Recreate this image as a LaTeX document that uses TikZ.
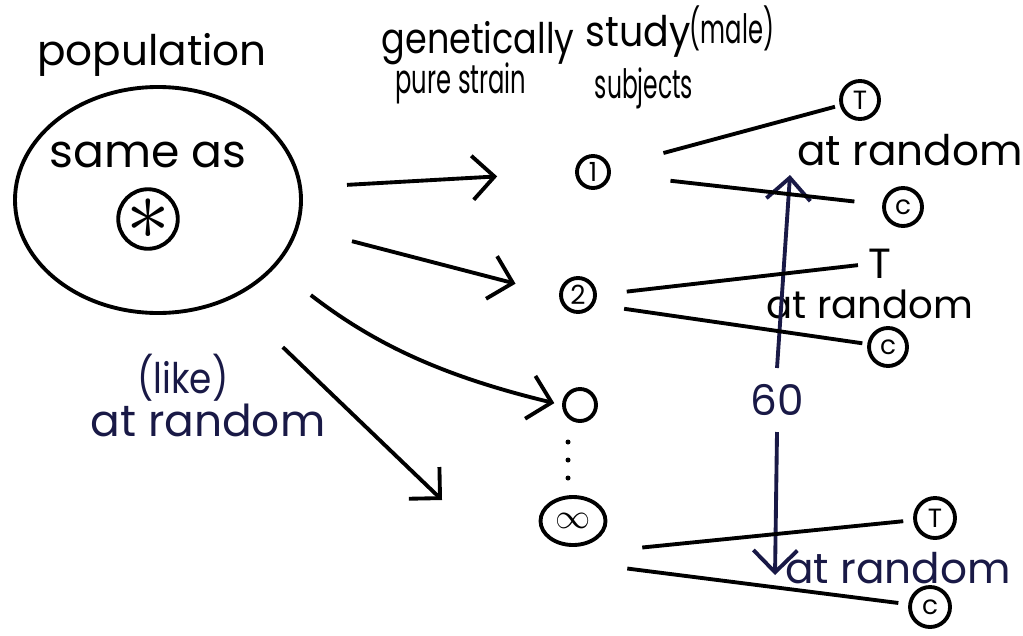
\documentclass[tikz,border=0pt]{standalone}
\usepackage{graphicx}
\usepackage{fontspec}
\setmainfont{Poppins}
\usetikzlibrary{shapes.geometric, arrows.meta}
\definecolor{ink}{RGB}{25,25,70}
\newcommand{\narrow}[2]{\scalebox{#1}[1]{#2}}
\tikzstyle{hand} = [font=\fontsize{12}{14}\selectfont, text=black, inner sep=0pt]
\tikzstyle{subject} = [circle, draw=black, line width=1.1pt, minimum size=0.32cm, inner sep=0pt, font=\fontsize{7.5}{8}\selectfont]
\tikzstyle{arrow} = [line width=1.1pt, -{Straight Barb[length=2.2mm, width=4.4mm]}]
\tikzstyle{branch} = [line width=1.1pt]

\begin{document}
\begin{tikzpicture}
        \useasboundingbox (0,0) rectangle (10.23,-6.35);

        % population
        \node (pop) [ellipse, draw, line width=1.1pt, minimum width=2.86cm, minimum height=2.26cm] at (1.58,-2.0) {};
        \node (poplabel) [hand] at (1.52,-0.55) {population};
        \node (sameas) [hand, font=\fontsize{13}{15}\selectfont] at (1.48,-1.55) {same as};
        \node (star) [subject, minimum size=0.46cm, font=\fontsize{24}{24}\selectfont] at (1.48,-2.19) {$\ast$};
        \node (like) [hand, text=ink] at (1.83,-3.78) {\narrow{0.85}{(like)}};
        \node (rand0) [hand, text=ink, font=\fontsize{12.5}{14}\selectfont] at (2.08,-4.20) {at random};

        % headings
        \node (genetic) [hand] at (4.78,-0.43) {\narrow{0.83}{genetically}};
        \node (pure) [hand, font=\fontsize{11.5}{13}\selectfont] at (4.61,-0.83) {\narrow{0.6}{pure strain}};
        \node (study) [hand] at (6.38,-0.36) {\narrow{0.9}{study}};
        \node (male) [hand, font=\fontsize{11.5}{13}\selectfont] at (7.32,-0.28) {\narrow{0.6}{(male)}};
        \node (subjects) [hand, font=\fontsize{11.5}{13}\selectfont] at (6.44,-0.88) {\narrow{0.58}{subjects}};

        % study subjects
        \node (s1) [subject] at (5.93,-1.72) {1};
        \node (s2) [subject, minimum size=0.34cm] at (5.78,-2.95) {2};
        \node (s3) [subject] at (5.80,-4.05) {};
        \node (sinf) [ellipse, draw, line width=1.1pt, minimum width=0.65cm, minimum height=0.48cm, inner sep=0pt] at (5.73,-5.21) {$\infty$};
        \foreach \y in {4.42,4.60,4.78}
            \fill (5.68,-\y) circle (0.025);

        % groups
        \node (t1) [subject, minimum size=0.38cm] at (8.60,-1.00) {T};
        \node (rand1) [hand] at (9.10,-1.50) {at random};
        \node (c1) [subject, minimum size=0.38cm] at (9.03,-2.07) {c};
        \node (t2) [hand] at (8.80,-2.64) {T};
        \node (rand2) [hand, font=\fontsize{11}{13}\selectfont] at (8.70,-3.04) {at random};
        \node (c2) [subject, minimum size=0.38cm] at (8.88,-3.47) {c};
        \node (t3) [subject, minimum size=0.40cm] at (9.35,-5.18) {T};
        \node (rand3) [hand, text=ink] at (8.98,-5.68) {at random};
        \node (c3) [subject, minimum size=0.40cm] at (9.30,-6.07) {c};

        \node (sixty) [hand, text=ink] at (7.77,-4.00) {60};
        \coordinate (up) at (7.90,-1.75);
        \coordinate (down) at (7.75,-5.75);
        \coordinate (tip4) at (4.42,-5.00);

        % Arrows
        \draw [arrow, shorten <=0.45cm, shorten >=0.78cm] (pop.5) -- (s1.west);
        \draw [arrow, shorten <=0.55cm, shorten >=0.45cm] (pop.-11) -- (s2.west);
        \draw [arrow, shorten <=0.45cm, shorten >=0.08cm] (pop.-30) to[bend right=12] (s3.west);
        \draw [arrow, shorten <=0.7cm] (pop.-53) -- (tip4);
        \draw [arrow, draw=ink] ([yshift=0.32cm]sixty.center) -- (up);
        \draw [arrow, draw=ink] ([yshift=-0.32cm]sixty.center) -- (down);

        % Lines
        \draw [branch, shorten <=0.55cm, shorten >=0.05cm] (s1) -- (t1);
        \draw [branch, shorten <=0.6cm, shorten >=0.28cm] (s1) -- (c1);
        \draw [branch, shorten <=0.3cm, shorten >=0.1cm] (s2.east) -- (t2.west);
        \draw [branch, shorten <=0.3cm, shorten >=0.05cm] (s2.-30) -- (c2);
        \draw [branch, shorten <=0.35cm, shorten >=0.1cm] ([yshift=-0.3cm]sinf.east) -- (t3);
        \draw [branch, shorten <=0.2cm, shorten >=0.1cm] ([yshift=-0.45cm]sinf.east) -- (c3);

        \end{tikzpicture}
\end{document}
